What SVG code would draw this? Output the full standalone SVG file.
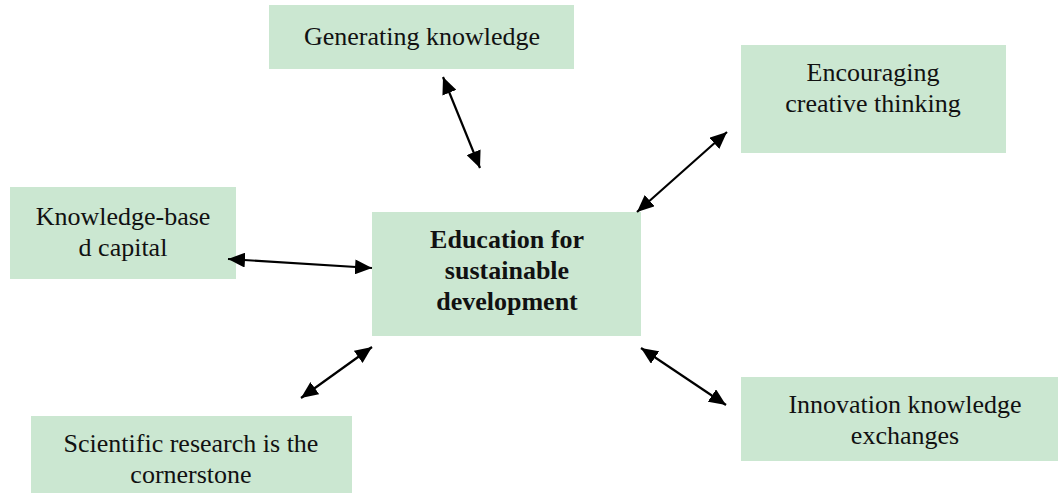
<svg xmlns="http://www.w3.org/2000/svg" width="1058" height="493" viewBox="0 0 1058 493">
<defs>
<style>
.box{fill:#cbe7d1;}
.t{font-size:26px;fill:#111;text-anchor:middle;}
.b{font-weight:bold;}
.c{stroke:#000;stroke-width:2.2;fill:none;marker-start:url(#ah);marker-end:url(#ah);}
</style>
<marker id="ah" viewBox="0 0 17 15" refX="17" refY="7.5" markerWidth="17" markerHeight="15" markerUnits="userSpaceOnUse" orient="auto-start-reverse">
<path d="M0,0 L17,7.5 L0,15 Z" fill="#000"/>
</marker>
</defs>
<rect width="1058" height="493" fill="#fff"/>
<g font-family="'Liberation Serif', 'DejaVu Serif', serif">
<g id="node-generating">
<rect class="box" x="269" y="5" width="305" height="64"/>
<text class="t" x="422" y="45">Generating knowledge</text>
</g>
<g id="node-encouraging">
<rect class="box" x="741" y="45" width="265" height="108"/>
<text class="t" x="873" y="81">Encouraging</text>
<text class="t" x="873" y="112">creative thinking</text>
</g>
<g id="node-capital">
<rect class="box" x="10" y="187" width="226" height="92"/>
<text class="t" x="123" y="225">Knowledge-base</text>
<text class="t" x="123" y="256">d capital</text>
</g>
<g id="node-center">
<rect class="box" x="372" y="212" width="269" height="124"/>
<text class="t b" x="507" y="248">Education for</text>
<text class="t b" x="507" y="279">sustainable</text>
<text class="t b" x="507" y="310">development</text>
</g>
<g id="node-scientific">
<rect class="box" x="31" y="416" width="321" height="77"/>
<text class="t" x="191" y="452">Scientific research is the</text>
<text class="t" x="191" y="483">cornerstone</text>
</g>
<g id="node-innovation">
<rect class="box" x="741" y="377" width="317" height="84"/>
<text class="t" x="905" y="413">Innovation knowledge</text>
<text class="t" x="905" y="444">exchanges</text>
</g>
</g>
<g id="connectors">
<line class="c" x1="443" y1="77" x2="480" y2="168"/>
<line class="c" x1="727" y1="132" x2="637" y2="212"/>
<line class="c" x1="228" y1="259" x2="372" y2="268"/>
<line class="c" x1="372" y1="347" x2="301" y2="398"/>
<line class="c" x1="641" y1="348" x2="726" y2="405"/>
</g>
</svg>
